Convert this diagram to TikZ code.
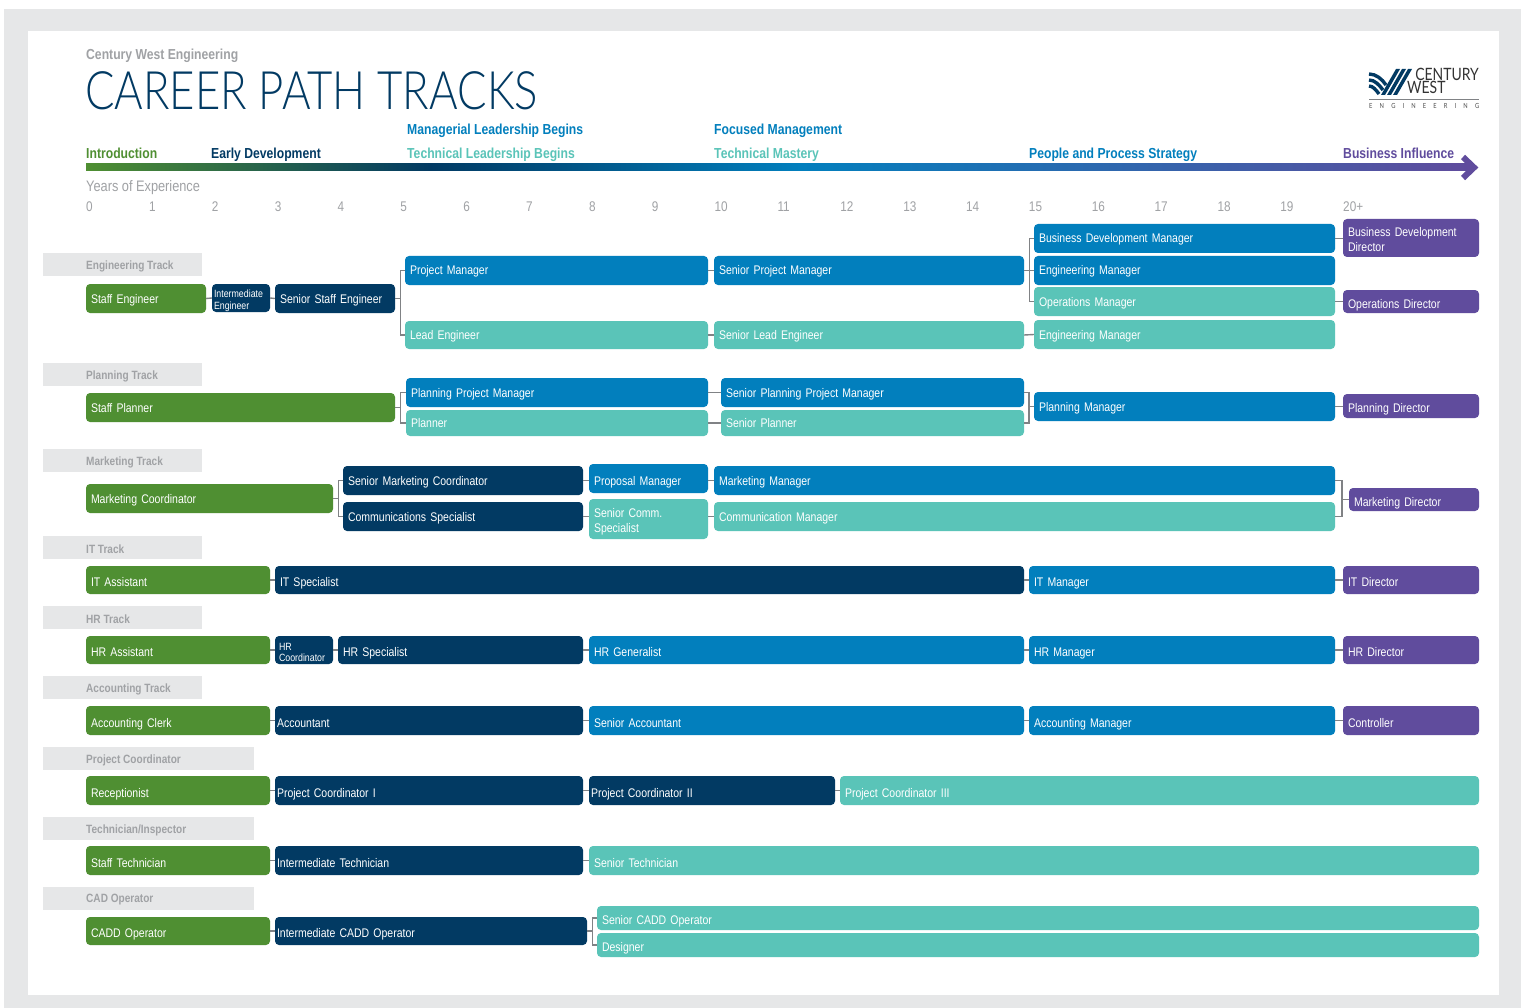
\documentclass[tikz,border=0pt]{standalone}
\usepackage{fontspec}
\setmainfont[FakeStretch=0.84]{Liberation Sans}
\newfontfamily\titlefont[FakeStretch=0.824,UprightFont=* Light]{Lato}
\newfontfamily\logofont[FakeStretch=0.82]{Lato}
\usetikzlibrary{positioning, calc}
\definecolor{cwgreen}{HTML}{4F8F32}
\definecolor{cwnavy}{HTML}{023A63}
\definecolor{cwblue}{HTML}{027FBD}
\definecolor{cwteal}{HTML}{5AC4B8}
\definecolor{cwpurple}{HTML}{604C9D}
\definecolor{cwpanel}{HTML}{E6E7E8}
\definecolor{cwtext}{HTML}{A0A2A5}
\definecolor{cwlink}{HTML}{808285}
\tikzset{
  stagebox/.style={rounded corners=4pt, inner xsep=5pt, inner ysep=0pt, align=left, text=white, text height=9pt, text depth=0pt, font=\fontsize{12.5}{15}\selectfont},
  greenbox/.style={stagebox, fill=cwgreen},
  navybox/.style={stagebox, fill=cwnavy},
  bluebox/.style={stagebox, fill=cwblue},
  tealbox/.style={stagebox, fill=cwteal},
  purplebox/.style={stagebox, fill=cwpurple},
  lowtext/.style={text height=13pt},
  twolines/.style={text height=17pt, text depth=20pt},
  smalltext/.style={text height=14pt, text depth=14pt, font=\fontsize{10.5}{11.5}\selectfont},
  trackbox/.style={fill=cwpanel, text=cwtext, anchor=west, inner xsep=0pt, inner ysep=0pt, align=left, font=\fontsize{12}{14}\selectfont\bfseries},
  phase/.style={anchor=base west, inner sep=0pt, font=\fontsize{14.5}{17}\selectfont\bfseries},
  yearlabel/.style={anchor=base west, inner sep=0pt, text=cwtext, font=\fontsize{14}{16}\selectfont},
  logotext/.style={inner sep=0pt, text=black!80, text height=12pt, text depth=0pt, font=\logofont\fontsize{17}{17}\selectfont},
  link/.style={draw=cwlink, line width=1.4pt},
}
\newcommand{\stage}[7][]{\node[#1, minimum width={(#5-#3)*1pt}, minimum height={(#6-#4)*1pt}, text width={(#5-#3-10)*1pt}] (#2) at ({(#3+#5)/2},{(#4+#6)/2}) {#7};}
\newcommand{\track}[4]{\fill[cwpanel] (43,#2) rectangle (#3,#2+23); \node[trackbox] (#1) at (86,#2+13) {#4};}
\begin{document}
\begin{tikzpicture}[x=1pt,y=-1pt]
\useasboundingbox (0,0) rectangle (1525,1008);
\fill[white] (0,0) rectangle (1525,1008);
\fill[cwpanel] (4,9) rectangle (1521,1008);
\fill[white] (28,31) rectangle (1499,995);

\node[anchor=base west, inner sep=0pt, text=cwtext, font=\fontsize{14.5}{17}\selectfont\bfseries] (company) at (86,60) {Century West Engineering};
\node[anchor=base west, inner sep=0pt, text=cwnavy, font=\titlefont\fontsize{53}{55}\selectfont] (title) at (85,109.5) {CAREER PATH TRACKS};

\fill[cwnavy] (1381,95) -- (1396,69) -- (1400,69) -- (1385,95) -- cycle;
\fill[cwnavy] (1387,95) -- (1402,69) -- (1406,69) -- (1391,95) -- cycle;
\fill[cwnavy] (1393,95) -- (1408,69) -- (1412,69) -- (1397,95) -- cycle;
\draw[cwnavy, line width=3.4pt] (1369,74) .. controls (1376,74) and (1382,79) .. (1386,85);
\draw[cwnavy, line width=3.4pt] (1369,80) .. controls (1375,80) and (1379,85) .. (1383,90);
\draw[cwnavy, line width=3.4pt] (1369,86) .. controls (1373,86) and (1376,90) .. (1379,94);
\node[logotext, anchor=base east] (century) at (1479,81) {CENTURY};
\node[logotext, anchor=base west] (west) at (1407,94) {WEST};
\draw[cwlink, line width=1pt] (1369,100) -- (1479,100);
\node[anchor=base west, inner sep=0pt, text width=110pt, text=black!70, font=\logofont\fontsize{7}{7}\selectfont] (engineering) at (1369,109) {E\hfill N\hfill G\hfill I\hfill N\hfill E\hfill E\hfill R\hfill I\hfill N\hfill G};

\shade[left color=cwgreen, right color=cwnavy] (86,164) rectangle (430,171);
\shade[left color=cwnavy, right color=cwblue] (429.5,164) rectangle (800,171);
\shade[left color=cwblue, right color=cwpurple] (799.5,164) rectangle (1470,171);
\draw[cwpurple, line width=6pt, miter limit=4] (1463,157) -- (1474,167.5) -- (1463,178);

\node[phase, text=cwgreen] (intro) at (86,159) {Introduction};
\node[phase, text=cwnavy] (early) at (211,159) {Early Development};
\node[phase, text=cwblue] (managerial) at (407,135) {Managerial Leadership Begins};
\node[phase, text=cwteal] (technical) at (407,159) {Technical Leadership Begins};
\node[phase, text=cwblue] (focused) at (714,135) {Focused Management};
\node[phase, text=cwteal] (mastery) at (714,159) {Technical Mastery};
\node[phase, text=cwblue] (people) at (1029,159) {People and Process Strategy};
\node[phase, text=cwpurple] (influence) at (1343,159) {Business Influence};

\node[yearlabel, font=\fontsize{15.2}{17}\selectfont] (years) at (86,192) {Years of Experience};
\foreach \yr in {0,...,19}
  \node[yearlabel] (yr\yr) at ({86+62.85*\yr},212) {\yr};
\node[yearlabel] (yr20) at (1343,212) {20+};

\track{engtrack}{253}{202}{Engineering Track}
\stage[greenbox]{staffeng}{86}{284}{206}{313}{Staff Engineer}
\stage[navybox,smalltext]{intereng}{212}{284}{270}{312}{\hspace*{-3pt}Intermediate\\\hspace*{-3pt}Engineer}
\stage[navybox]{seniorstaff}{275}{284}{395}{313}{Senior Staff Engineer}
\stage[bluebox]{projmgr}{405}{256}{708}{285}{Project Manager}
\stage[tealbox]{leadeng}{405}{321}{708}{349}{Lead Engineer}
\stage[bluebox]{srprojmgr}{714}{256}{1024}{285}{Senior Project Manager}
\stage[tealbox]{srleadeng}{714}{321}{1024}{349}{Senior Lead Engineer}
\stage[bluebox]{bizmgr}{1034}{224}{1335}{253}{Business Development Manager}
\stage[bluebox]{engmgra}{1034}{256}{1335}{285}{Engineering Manager}
\stage[tealbox]{opsmgr}{1034}{287}{1335}{316}{Operations Manager}
\stage[tealbox]{engmgrb}{1034}{320}{1335}{349}{Engineering Manager}
\stage[purplebox,twolines]{bizdir}{1343}{219}{1479}{257}{Business Development\\Director}
\stage[purplebox,lowtext]{opsdir}{1343}{290}{1479}{313}{Operations Director}
\draw[link] (staffeng.east) -- (intereng.west);
\draw[link] (intereng.east) -- (seniorstaff.west);
\draw[link] (seniorstaff.east) -- ++(5,0) |- (projmgr.west);
\draw[link] (seniorstaff.east) -- ++(5,0) |- (leadeng.west);
\draw[link] (projmgr.east) -- (srprojmgr.west);
\draw[link] (leadeng.east) -- (srleadeng.west);
\draw[link] (srprojmgr.east) -- (engmgra.west);
\draw[link] (srprojmgr.east) -- ++(5,0) |- (bizmgr.west);
\draw[link] (srprojmgr.east) -- ++(5,0) |- (opsmgr.west);
\draw[link] (srleadeng.east) -- (engmgrb.west);
\draw[link] (bizmgr.east) -- (bizmgr.east -| bizdir.west);
\draw[link] (opsmgr.east) -- (opsmgr.east -| opsdir.west);

\track{plantrack}{363}{202}{Planning Track}
\stage[greenbox]{staffplan}{86}{393}{395}{422}{Staff Planner}
\stage[bluebox]{planproj}{406}{378}{708}{407}{Planning Project Manager}
\stage[tealbox]{planner}{406}{410}{708}{436}{Planner}
\stage[bluebox]{srplanproj}{721}{378}{1024}{407}{Senior Planning Project Manager}
\stage[tealbox]{srplanner}{721}{410}{1024}{436}{Senior Planner}
\stage[bluebox]{planmgr}{1034}{392}{1335}{421}{Planning Manager}
\stage[purplebox,lowtext]{plandir}{1343}{394}{1479}{418}{Planning Director}
\draw[link] (staffplan.east) -- ++(5,0) |- (planproj.west);
\draw[link] (staffplan.east) -- ++(5,0) |- (planner.west);
\draw[link] (planproj.east) -- (srplanproj.west);
\draw[link] (planner.east) -- (srplanner.west);
\draw[link] (planmgr.west) -- ++(-5,0) |- (srplanproj.east);
\draw[link] (planmgr.west) -- ++(-5,0) |- (srplanner.east);
\draw[link] (planmgr.east) -- (plandir.west |- planmgr.east);

\track{mkttrack}{449}{202}{Marketing Track}
\stage[greenbox]{mktcoord}{86}{484}{333}{513}{Marketing Coordinator}
\stage[navybox]{srmktcoord}{343}{466}{583}{495}{Senior Marketing Coordinator}
\stage[navybox]{comspec}{343}{502}{583}{531}{Communications Specialist}
\stage[bluebox,lowtext]{propmgr}{589}{464}{708}{493}{Proposal Manager}
\stage[tealbox,twolines]{srcomm}{589}{499}{708}{539}{Senior Comm.\\Specialist}
\stage[bluebox]{mktmgr}{714}{466}{1335}{495}{Marketing Manager}
\stage[tealbox]{commmgr}{714}{502}{1335}{531}{Communication Manager}
\stage[purplebox,lowtext]{mktdir}{1349}{488}{1479}{511}{Marketing Director}
\draw[link] (mktcoord.east) -- ++(5,0) |- (srmktcoord.west);
\draw[link] (mktcoord.east) -- ++(5,0) |- (comspec.west);
\draw[link] (srmktcoord.east) -- (srmktcoord.east -| propmgr.west);
\draw[link] (comspec.east) -- (comspec.east -| srcomm.west);
\draw[link] (srmktcoord.east -| propmgr.east) -- (mktmgr.west);
\draw[link] (comspec.east -| srcomm.east) -- (commmgr.west);
\draw[link] (mktdir.west) -- ++(-7,0) |- (mktmgr.east);
\draw[link] (mktdir.west) -- ++(-7,0) |- (commmgr.east);

\track{ittrack}{536}{202}{IT Track}
\stage[greenbox,lowtext]{itasst}{86}{566}{270}{594}{IT Assistant}
\stage[navybox,lowtext]{itspec}{275}{566}{1024}{594}{IT Specialist}
\stage[bluebox,lowtext]{itmgr}{1029}{566}{1335}{594}{IT Manager}
\stage[purplebox,lowtext]{itdir}{1343}{566}{1479}{594}{IT Director}
\draw[link] (itasst.east) -- (itspec.west);
\draw[link] (itspec.east) -- (itmgr.west);
\draw[link] (itmgr.east) -- (itdir.west);

\track{hrtrack}{606}{202}{HR Track}
\stage[greenbox,lowtext]{hrasst}{86}{636}{270}{664}{HR Assistant}
\stage[navybox,smalltext]{hrcoord}{275}{636}{333}{664}{\hspace*{-1pt}HR\\\hspace*{-1pt}Coordinator}
\stage[navybox,lowtext]{hrspec}{338}{636}{583}{664}{HR Specialist}
\stage[bluebox,lowtext]{hrgen}{589}{636}{1024}{664}{HR Generalist}
\stage[bluebox,lowtext]{hrmgr}{1029}{636}{1335}{664}{HR Manager}
\stage[purplebox,lowtext]{hrdir}{1343}{636}{1479}{664}{HR Director}
\draw[link] (hrasst.east) -- (hrcoord.west);
\draw[link] (hrcoord.east) -- (hrspec.west);
\draw[link] (hrspec.east) -- (hrgen.west);
\draw[link] (hrgen.east) -- (hrmgr.west);
\draw[link] (hrmgr.east) -- (hrdir.west);

\track{acctrack}{676}{202}{Accounting Track}
\stage[greenbox,lowtext]{accclerk}{86}{706}{270}{735}{Accounting Clerk}
\stage[navybox,lowtext]{accountant}{275}{706}{583}{735}{\hspace*{-3pt}Accountant}
\stage[bluebox,lowtext]{sraccountant}{589}{706}{1024}{735}{Senior Accountant}
\stage[bluebox,lowtext]{accmgr}{1029}{706}{1335}{735}{Accounting Manager}
\stage[purplebox,lowtext]{controller}{1343}{706}{1479}{735}{Controller}
\draw[link] (accclerk.east) -- (accountant.west);
\draw[link] (accountant.east) -- (sraccountant.west);
\draw[link] (sraccountant.east) -- (accmgr.west);
\draw[link] (accmgr.east) -- (controller.west);

\track{pctrack}{747}{254}{Project Coordinator}
\stage[greenbox,lowtext]{receptionist}{86}{776}{270}{805}{Receptionist}
\stage[navybox,lowtext]{pcone}{275}{776}{583}{805}{\hspace*{-3pt}Project Coordinator I}
\stage[navybox,lowtext]{pctwo}{589}{776}{835}{805}{\hspace*{-3pt}Project Coordinator II}
\stage[tealbox,lowtext]{pcthree}{840}{776}{1479}{805}{Project Coordinator III}
\draw[link] (receptionist.east) -- (pcone.west);
\draw[link] (pcone.east) -- (pctwo.west);
\draw[link] (pctwo.east) -- (pcthree.west);

\track{techtrack}{817}{254}{Technician/Inspector}
\stage[greenbox,lowtext]{stafftech}{86}{846}{270}{875}{Staff Technician}
\stage[navybox,lowtext]{intertech}{275}{846}{583}{875}{\hspace*{-3pt}Intermediate Technician}
\stage[tealbox,lowtext]{srtech}{589}{846}{1479}{875}{Senior Technician}
\draw[link] (stafftech.east) -- (intertech.west);
\draw[link] (intertech.east) -- (srtech.west);

\track{cadtrack}{887}{254}{CAD Operator}
\stage[greenbox,lowtext]{cadop}{86}{917}{270}{945}{CADD Operator}
\stage[navybox,lowtext]{intercad}{275}{917}{587}{945}{\hspace*{-3pt}Intermediate CADD Operator}
\stage[tealbox,lowtext]{srcad}{597}{906}{1479}{930}{Senior CADD Operator}
\stage[tealbox,lowtext]{designer}{597}{933}{1479}{957}{Designer}
\draw[link] (cadop.east) -- (intercad.west);
\draw[link] (intercad.east) -- ++(5,0) |- (srcad.west);
\draw[link] (intercad.east) -- ++(5,0) |- (designer.west);
\end{tikzpicture}
\end{document}
